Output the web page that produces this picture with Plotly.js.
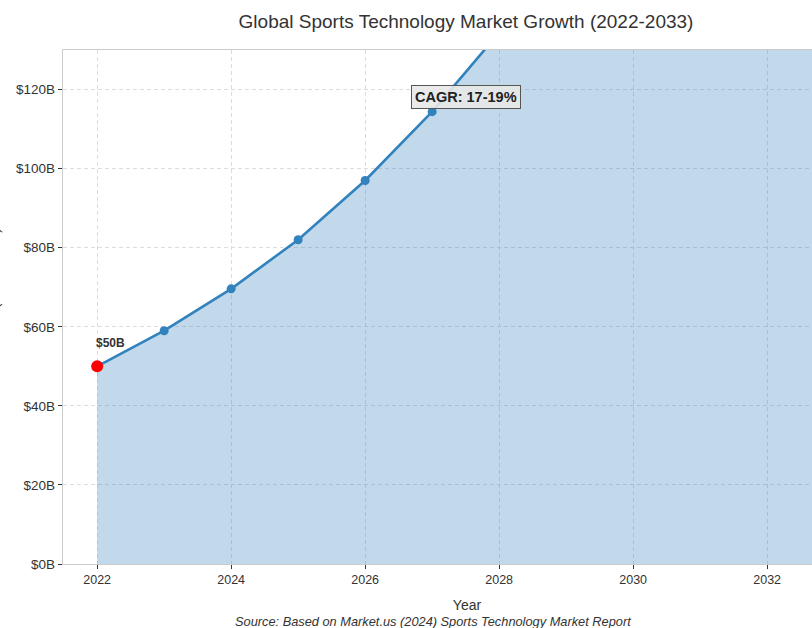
<!DOCTYPE html>
<html><head><meta charset="utf-8">
<script src="https://cdn.plot.ly/plotly-3.0.1.min.js"></script>
<style>html,body{margin:0;padding:0;overflow:hidden;background:#fff;}#chart{width:871px;height:628px;}</style>
</head><body><div id="chart"></div>
<script>
const years = [2022, 2023, 2024, 2025, 2026, 2027, 2028, 2029, 2030, 2031, 2032, 2033];
const marketSize = [50, 59, 69.6, 82, 97, 114.4, 134.4, 158, 185.5, 218, 256, 301];
const yTicks = [0, 20, 40, 60, 80, 100, 120];
const yTickText = ['$0B', '$20B', '$40B', '$60B', '$80B', '$100B', '$120B'];
const xTicks = [2022, 2024, 2026, 2028, 2030, 2032];

const font = "'Liberation Sans', Arial, sans-serif";
const W = 871, H = 628, L = 63, R = 0, T = 50, B = 64;
const PW = W - L - R;

const traces = [
  {x: years, y: marketSize, type: 'scatter', mode: 'lines+markers', fill: 'tozeroy',
   fillcolor: 'rgba(49,130,189,0.3)', line: {color: '#3182bd', width: 2.6},
   marker: {color: '#3182bd', size: 9}, hoverinfo: 'skip'},
  {x: [years[0]], y: [marketSize[0]], type: 'scatter', mode: 'markers',
   marker: {color: '#ff0000', size: 12}, hoverinfo: 'skip'}
];

const layout = {
  width: W, height: H, margin: {l: L, r: R, t: T, b: B},
  showlegend: false, paper_bgcolor: '#fff', plot_bgcolor: '#fff',
  font: {family: font, size: 12, color: '#333'},
  title: {text: 'Global Sports Technology Market Growth (2022-2033)', font: {size: 19, color: '#333', family: font},
          x: 466 / W, xanchor: 'center', y: 1 - 21 / H, yanchor: 'middle'},
  xaxis: {range: [2021.49, 2033.55], tickvals: xTicks, ticks: 'outside', ticklen: 4, tickcolor: '#333',
          showgrid: true, gridcolor: '#dcdcdc', griddash: '4px,3px', gridwidth: 1,
          showline: true, linecolor: '#ccc', linewidth: 1.2, mirror: true, zeroline: false,
          tickfont: {size: 12.5, color: '#333'},
          title: {text: 'Year', font: {size: 14, color: '#333'}, standoff: 14}},
  yaxis: {range: [0, 130], tickvals: yTicks, ticktext: yTickText, ticks: 'outside', ticklen: 4, tickcolor: '#333',
          showgrid: true, gridcolor: '#dcdcdc', griddash: '4px,3px', gridwidth: 1,
          showline: true, linecolor: '#ccc', linewidth: 1.2, zeroline: false,
          tickfont: {size: 13.5, color: '#333'}},
  annotations: [
    {x: years[0], y: marketSize[0], xref: 'x', yref: 'y', text: '<b>$' + marketSize[0] + 'B</b>', showarrow: false,
     xanchor: 'left', yanchor: 'middle', yshift: 23, xshift: -3, font: {size: 12, color: '#333'}},
    {x: 2027.5, y: 118.2, xref: 'x', yref: 'y', text: '<b>CAGR: 17-19%</b>', showarrow: false,
     xanchor: 'center', yanchor: 'middle', bgcolor: 'rgba(232,232,232,0.9)', bordercolor: '#555', borderwidth: 1, borderpad: 3,
     font: {size: 14.5, color: '#222'}},
    {x: (433 - L) / PW, y: -57 / (H - T - B), xref: 'paper', yref: 'paper', text: '<i>Source: Based on Market.us (2024) Sports Technology Market Report</i>',
     showarrow: false, xanchor: 'center', yanchor: 'middle', font: {size: 12.8, color: '#333'}},
    {x: 0, y: 0.5, xref: 'paper', yref: 'paper', text: 'Market Size (Billion USD)', textangle: -90, showarrow: false,
     xanchor: 'center', yanchor: 'middle', xshift: -L - 6, font: {size: 14, color: '#333'}}
  ]
};
Plotly.newPlot('chart', traces, layout, {displayModeBar: false, staticPlot: true});
</script></body></html>
